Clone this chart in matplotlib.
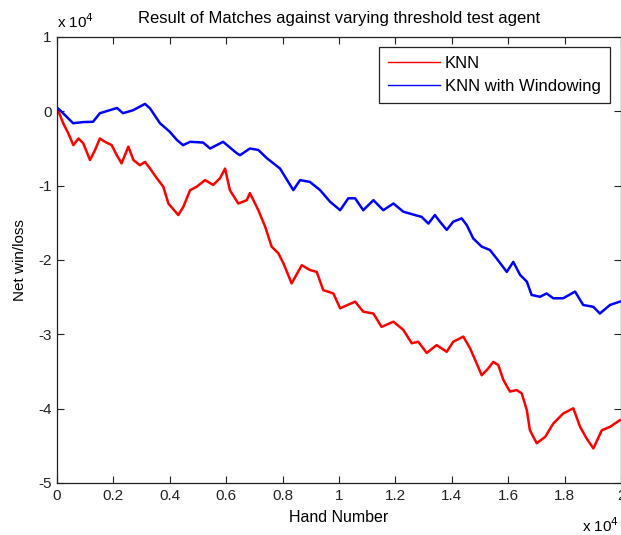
import numpy as np
import matplotlib
matplotlib.use("Agg")
import matplotlib.pyplot as plt
from matplotlib.ticker import FuncFormatter, MultipleLocator

plt.rcParams["font.family"] = ["Liberation Sans", "DejaVu Sans"]

# hand number / net win-loss
knn_hands = [0, 220, 400, 580, 760, 930, 1170, 1350, 1520, 1700, 1940, 2120, 2290, 2530,
             2710, 2940, 3120, 3300, 3540, 3770, 3950, 4300, 4480, 4720, 4950, 5250, 5540,
             5780, 5960, 6130, 6430, 6730, 6840, 7140, 7380, 7610, 7850, 8030, 8320, 8680,
             8970, 9210, 9440, 9800, 10040, 10570, 10860, 11220, 11510, 11930, 12280, 12580,
             12810, 13110, 13460, 13820, 14050, 14410, 14650, 14880, 15060, 15290, 15470,
             15650, 15830, 16060, 16300, 16480, 16660, 16770, 17010, 17310, 17600, 17950,
             18310, 18550, 18780, 19020, 19320, 19610, 19960]
knn_net = [500, -1600, -2950, -4550, -3650, -4300, -6550, -5200, -3650, -4100, -4550, -5900,
           -7000, -4750, -6550, -7250, -6800, -7700, -9000, -10150, -12400, -13950, -12850,
           -10600, -10150, -9250, -9900, -9000, -7700, -10600, -12400, -11950, -11000, -13300,
           -15500, -18200, -19100, -20450, -23150, -20700, -21350, -21600, -24050, -24500,
           -26500, -25600, -26950, -27200, -29000, -28300, -29400, -31200, -31000, -32500,
           -31450, -32350, -31000, -30300, -31900, -33900, -35500, -34600, -33700, -34150,
           -36150, -37700, -37500, -37950, -40200, -42900, -44650, -43800, -42000, -40650,
           -39950, -42450, -44000, -45350, -42900, -42450, -41550]

win_hands = [0, 150, 340, 570, 920, 1280, 1520, 2130, 2340, 2700, 3120, 3300, 3650, 4000,
             4250, 4470, 4720, 5180, 5430, 5890, 6380, 6490, 6840, 7140, 7440, 7910, 8380,
             8620, 8970, 9330, 9680, 10040, 10330, 10570, 10860, 11220, 11570, 11930, 12280,
             12690, 12930, 13170, 13400, 13580, 13820, 14050, 14350, 14530, 14760, 15060,
             15350, 15590, 15950, 16180, 16420, 16660, 16830, 17130, 17360, 17600, 17950,
             18370, 18660, 19020, 19250, 19610, 19960]
win_net = [500, 0, -730, -1600, -1450, -1400, -250, 450, -250, 150, 1000, 400, -1600, -2750,
           -3850, -4550, -4100, -4200, -5000, -4100, -5650, -5900, -5000, -5200, -6300, -7700,
           -10600, -9250, -9500, -10600, -12150, -13300, -11700, -11700, -13300, -11950,
           -13300, -12400, -13500, -13950, -14200, -15100, -13950, -14850, -15950, -14850,
           -14400, -15300, -17100, -18200, -18650, -19800, -21600, -20250, -22000, -22900,
           -24700, -24950, -24500, -25150, -25150, -24250, -26050, -26300, -27200, -26050,
           -25600]

fig = plt.figure(figsize=(6.21, 5.35), dpi=100)
ax = fig.add_axes([57 / 621, 1 - 483 / 535, 564 / 621, 446 / 535])

ax.plot(knn_hands, knn_net, color="#ff0000", lw=1.8, label="KNN")
ax.plot(win_hands, win_net, color="#0000ff", lw=1.8, label="KNN with Windowing")

ax.set_xlim(0, 20000)
ax.set_ylim(-50000, 10000)
ax.xaxis.set_major_locator(MultipleLocator(2000))
ax.yaxis.set_major_locator(MultipleLocator(10000))
ax.xaxis.set_major_formatter(FuncFormatter(lambda v, p: "%g" % round(v / 1e4, 1)))
ax.yaxis.set_major_formatter(FuncFormatter(lambda v, p: "%g" % round(v / 1e4, 1)))
ax.tick_params(direction="in", top=True, right=True, length=5, width=0.8,
               labelsize=11, colors="#222222", pad=4)
for s in ax.spines.values():
    s.set_color("#222222")
    s.set_linewidth(0.9)

ax.set_title("Result of Matches against varying threshold test agent",
             fontsize=12, pad=10)
ax.set_xlabel("Hand Number", fontsize=11.5, labelpad=5)
ax.set_ylabel("Net win/loss", fontsize=11, labelpad=8)

fig.text(57 / 621, 1 - 22 / 535, r"x 10$^{4}$", fontsize=11, ha="left", va="center")
fig.text(619 / 621, 1 - 526 / 535, r"x 10$^{4}$", fontsize=11, ha="right", va="center")

leg = ax.legend(loc="upper right", bbox_to_anchor=(553 / 564, 436 / 446), borderaxespad=0,
                fancybox=False, edgecolor="#222222", framealpha=1, fontsize=12,
                handlelength=3.1, handletextpad=0.3, borderpad=0.55, labelspacing=0.45)
leg.get_frame().set_linewidth(0.9)
for l in leg.get_lines():
    l.set_linewidth(1.0)

fig.savefig("out.png", dpi=100)
